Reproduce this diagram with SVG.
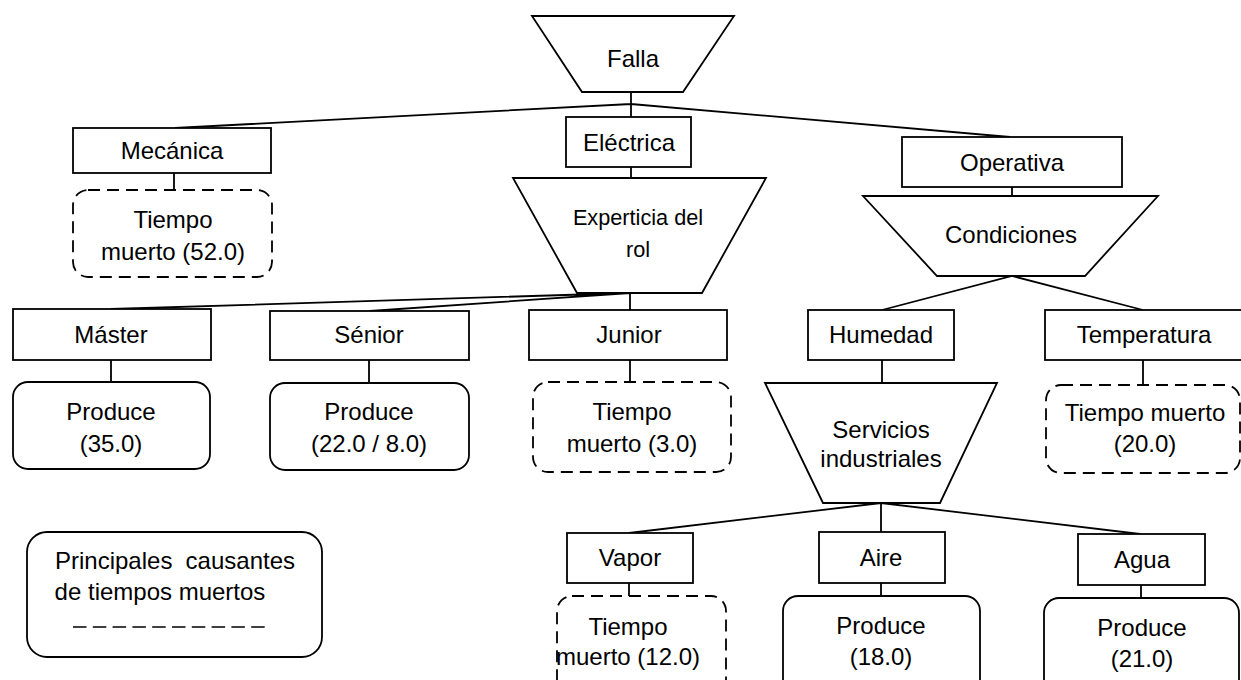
<svg xmlns="http://www.w3.org/2000/svg" width="1241" height="680" viewBox="0 0 1241 680">
<style>
.s{fill:#fff;stroke:#000;stroke-width:1.8}
.d{fill:#fff;stroke:#000;stroke-width:1.8;stroke-dasharray:12 7}
.c{fill:none;stroke:#000;stroke-width:1.8}
text{font-family:"Liberation Sans",Arial,sans-serif;font-size:24px;fill:#000;text-anchor:middle}
.sm{font-size:21.7px}
</style>
<rect width="1241" height="680" fill="#fff"/>
<g id="connectors">
<path class="c" d="M631 92V117M175 128L631 104L1010 137M631 167V178"/>
<path class="c" d="M174 173V190"/>
<path class="c" d="M111 309L630 293L370 311M630 293V310"/>
<path class="c" d="M111 360V382M369 360V383M630 360V382"/>
<path class="c" d="M1012 187V196M882 310L1012 276L1143 310"/>
<path class="c" d="M882 360V383M1143 360V385"/>
<path class="c" d="M629 533L881 503L1140 534M881 503V532"/>
<path class="c" d="M629 583V596M881 583V596M1141 585V598"/>
</g>
<g id="falla"><polygon class="s" points="532,16 734,16 683,92 582,92"/><text x="633" y="67">Falla</text></g>
<g id="mecanica"><rect class="s" x="73" y="128" width="198" height="45"/><text x="172" y="159">Mecánica</text></g>
<g id="electrica"><rect class="s" x="566" y="117" width="125" height="50"/><text x="629" y="151">Eléctrica</text></g>
<g id="operativa"><rect class="s" x="902" y="137" width="220" height="50"/><text x="1012" y="171">Operativa</text></g>
<g id="tm52"><rect class="d" x="73" y="190" width="199" height="87" rx="15"/><text x="173" y="228">Tiempo</text><text x="173" y="260">muerto (52.0)</text></g>
<g id="experticia"><polygon class="s" points="513,178 766,178 702,293 577,293"/><text class="sm" x="638" y="225">Experticia del</text><text class="sm" x="638" y="257">rol</text></g>
<g id="condiciones"><polygon class="s" points="863,196 1158,196 1085,276 937,276"/><text x="1011" y="243">Condiciones</text></g>
<g id="master"><rect class="s" x="13" y="309" width="198" height="51"/><text x="111" y="343">Máster</text></g>
<g id="senior"><rect class="s" x="270" y="311" width="199" height="49"/><text x="369" y="343">Sénior</text></g>
<g id="junior"><rect class="s" x="529" y="310" width="198" height="50"/><text x="629" y="343">Junior</text></g>
<g id="humedad"><rect class="s" x="808" y="310" width="146" height="50"/><text x="881" y="343">Humedad</text></g>
<g id="temperatura"><rect class="s" x="1045" y="310" width="210" height="50"/><text x="1144" y="343">Temperatura</text></g>
<g id="prod35"><rect class="s" x="13" y="382" width="197" height="87" rx="15"/><text x="111" y="420">Produce</text><text x="111" y="452">(35.0)</text></g>
<g id="prod22"><rect class="s" x="270" y="383" width="199" height="87" rx="15"/><text x="369" y="420">Produce</text><text x="369" y="452">(22.0 / 8.0)</text></g>
<g id="tm3"><rect class="d" x="533" y="382" width="198" height="90" rx="15"/><text x="632" y="420">Tiempo</text><text x="632" y="452">muerto (3.0)</text></g>
<g id="servicios"><polygon class="s" points="765,383 997,383 940,503 823,503"/><text x="881" y="438">Servicios</text><text x="881" y="467">industriales</text></g>
<g id="tm20"><rect class="d" x="1046" y="385" width="194" height="88" rx="15"/><text x="1145" y="421">Tiempo muerto</text><text x="1145" y="452">(20.0)</text></g>
<g id="vapor"><rect class="s" x="567" y="533" width="126" height="50"/><text x="630" y="566">Vapor</text></g>
<g id="aire"><rect class="s" x="819" y="532" width="126" height="51"/><text x="881" y="566">Aire</text></g>
<g id="agua"><rect class="s" x="1078" y="534" width="127" height="51"/><text x="1142" y="568">Agua</text></g>
<g id="tm12"><rect class="d" x="557" y="596" width="169" height="100" rx="15"/><text x="628" y="635">Tiempo</text><text x="628" y="665">muerto (12.0)</text></g>
<g id="prod18"><rect class="s" x="783" y="596" width="197" height="100" rx="15"/><text x="881" y="634">Produce</text><text x="881" y="665">(18.0)</text></g>
<g id="prod21"><rect class="s" x="1044" y="598" width="195" height="100" rx="15"/><text x="1142" y="636">Produce</text><text x="1142" y="667">(21.0)</text></g>
<g id="legend"><rect class="s" x="27" y="532" width="295" height="125" rx="20"/><text x="55" y="569" style="text-anchor:start">Principales</text><text x="295" y="569" style="text-anchor:end">causantes</text><text x="160" y="600">de tiempos muertos</text><line x1="73" y1="627" x2="265" y2="627" stroke="#000" stroke-width="1.5" stroke-dasharray="13.5 6.3"/></g>
</svg>
